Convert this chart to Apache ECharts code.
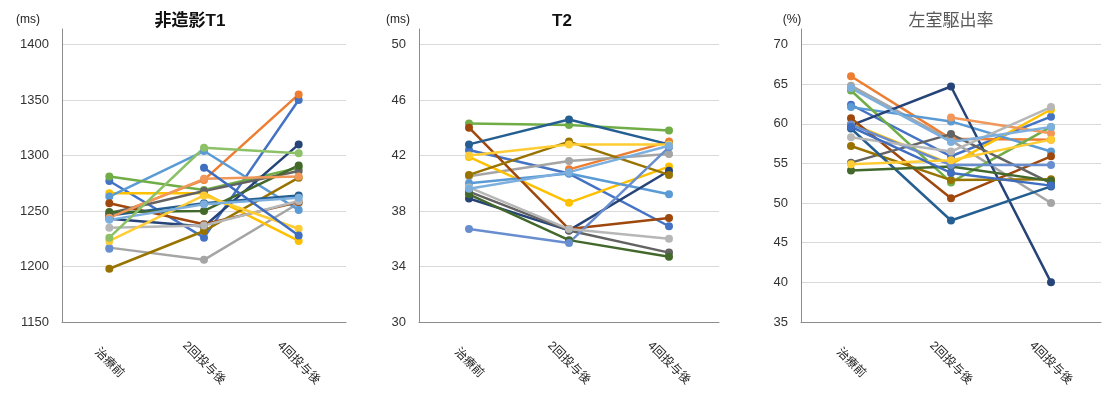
<!DOCTYPE html>
<html>
<head>
<meta charset="utf-8">
<script src="https://cdn.jsdelivr.net/npm/echarts@6/dist/echarts.min.js"></script>
<style>
html,body{margin:0;padding:0;background:#fff;}
#c{width:1102px;height:395px;}
</style>
</head>
<body>
<div id="c"></div>
<script>
// ---- data ----
const categories = ['治療前', '2回投与後', '4回投与後'];
const panelTitles = ['非造影T1', 'T2', '左室駆出率'];
const panelUnits = ['(ms)', '(ms)', '(%)'];

// y-axis ticks (min, top tick, interval)
const t1Ticks = [1150, 1400, 50];
const t2Ticks = [30, 50, 4];
const efTicks = [35, 70, 5];

// colours for each patient line
const lineColors = ['#4472C4','#ED7D31','#A5A5A5','#FFC000','#5B9BD5','#70AD47','#264478','#9E480E',
  '#636363','#997300','#255E91','#43682B','#698ED0','#F1975A','#B7B7B7','#FFCD33','#7CAFDD','#8CC168','#3F6DC0'];

// 非造影T1 (ms)
const t1Values = [
  [1277, 1226, 1350],
  [1245, 1278, 1355],
  [1217, 1206, 1257],
  [1266, 1266, 1223],
  [1263, 1304, 1251],
  [1281, 1269, 1289],
  [1243, 1236, 1310],
  [1257, 1238, 1258],
  [1248, 1268, 1286],
  [1198, 1232, 1280],
  [1246, 1257, 1264],
  [1249, 1250, 1291],
  [1216, null, null],
  [1244, 1279, 1281],
  [1235, 1237, 1259],
  [1223, 1264, 1234],
  [1242, 1256, 1262],
  [1226, 1307, 1302],
  [null, 1289, 1228]
];

// T2 (ms)
const t2Values = [
  [42.4, 40.7, 36.9],
  [null, 41.0, 43.0],
  [40.5, 41.6, 42.1],
  [41.9, 38.6, 41.2],
  [40.0, 40.7, 39.2],
  [44.3, 44.2, 43.8],
  [38.9, 36.6, 40.9],
  [44.0, 36.7, 37.5],
  [39.4, 36.6, 35.0],
  [40.6, 43.0, 40.6],
  [42.8, 44.6, 42.8],
  [39.2, 35.9, 34.7],
  [36.7, 35.7, 42.6],
  [null, null, null],
  [39.7, 36.7, 36.0],
  [42.0, 42.8, 42.8],
  [39.6, 40.8, 42.7],
  [null, null, null],
  [null, null, null]
];

// 左室駆出率 (%)
const efValues = [
  [62.4, 55.9, 60.9],
  [66.0, 58.1, 58.0],
  [64.8, 57.9, 50.0],
  [60.0, 54.9, 61.8],
  [62.1, 60.3, 56.5],
  [64.2, 52.6, 59.6],
  [59.8, 64.7, 40.0],
  [60.7, 50.6, 55.9],
  [55.1, 58.7, 52.5],
  [57.2, 52.9, 53.0],
  [59.4, 47.8, 52.1],
  [54.1, 54.6, 52.8],
  [59.9, 54.8, 54.8],
  [null, 60.8, 58.8],
  [58.3, 56.5, 62.1],
  [54.9, 55.4, 58.0],
  [64.5, 57.7, 59.6],
  [null, null, null],
  [59.6, 53.8, 52.2]
];

// ---- layout ----
const panels = [
  {vals: t1Values, ticks: t1Ticks, left: 62, width: 284, titleX: 185, unitX: 23},
  {vals: t2Values, ticks: t2Ticks, left: 419, width: 300, titleX: 557, unitX: 393},
  {vals: efValues, ticks: efTicks, left: 801, width: 300, titleX: 946, unitX: 787}
];
const gridTop = 29, gridBottom = 73;
const overflowRatio = 15.5 / 277.8;
const FONT = '"Liberation Sans", "Noto Sans CJK JP", sans-serif';

const grid = [], xAxis = [], yAxis = [], series = [], title = [];
panels.forEach((p, i) => {
  grid.push({left: p.left, width: p.width, top: gridTop, bottom: gridBottom});
  title.push({
    text: panelTitles[i], left: p.titleX, top: 8, textAlign: 'center',
    textStyle: {fontSize: 17, fontWeight: i === 2 ? 'normal' : 'bold', color: i === 2 ? '#595959' : '#111', fontFamily: FONT}
  });
  title.push({
    text: panelUnits[i], left: p.unitX, top: 9, textAlign: 'center',
    textStyle: {fontSize: 12, fontWeight: 'normal', color: '#222', fontFamily: FONT}
  });
  xAxis.push({
    gridIndex: i, type: 'category', data: categories, boundaryGap: true,
    axisLine: {lineStyle: {color: '#8c8c8c', width: 1}},
    axisTick: {show: false},
    axisLabel: {rotate: -45, align: 'center', verticalAlign: 'middle', margin: 41,
      fontSize: 12, color: '#222', fontFamily: FONT}
  });
  const [mn, top, iv] = p.ticks;
  yAxis.push({
    gridIndex: i, type: 'value', min: mn, max: top + (top - mn) * overflowRatio, interval: iv,
    axisLine: {show: true, lineStyle: {color: '#8c8c8c', width: 1}},
    axisTick: {show: false},
    axisLabel: {showMaxLabel: false, fontSize: 13, color: '#333', margin: 13, fontFamily: FONT,
      formatter: v => String(v)},
    splitLine: {show: true, showMaxLine: false, lineStyle: {color: '#d9d9d9', width: 1}}
  });
  p.vals.forEach((v, k) => {
    if (v.every(x => x === null)) return;
    series.push({
      type: 'line', xAxisIndex: i, yAxisIndex: i, data: v,
      symbol: 'circle', symbolSize: 8, connectNulls: false,
      lineStyle: {width: 2.5, color: lineColors[k]},
      itemStyle: {color: lineColors[k]},
      emphasis: {disabled: true}
    });
  });
});

const chart = echarts.init(document.getElementById('c'), null, {renderer: 'canvas'});
chart.setOption({animation: false, backgroundColor: '#fff', title, grid, xAxis, yAxis, series});
</script>
</body>
</html>
